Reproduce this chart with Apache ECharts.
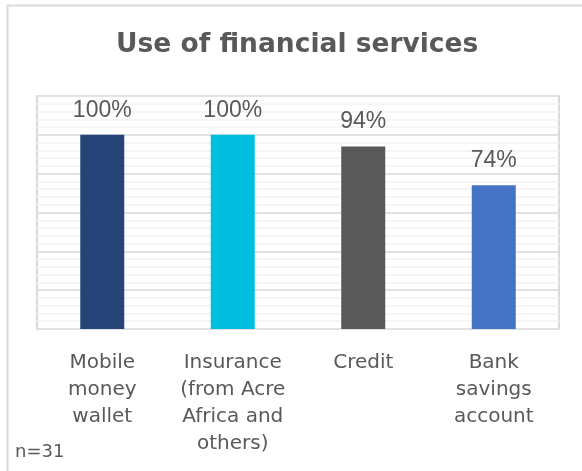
<!DOCTYPE html>
<html>
<head>
<meta charset="utf-8">
<script src="https://cdn.jsdelivr.net/npm/echarts@6/dist/echarts.min.js"></script>
<style>
  html, body { margin: 0; padding: 0; background: #ffffff; }
  #chart { width: 582px; height: 471px; }
</style>
</head>
<body>
<div id="chart"></div>
<script>
// Share of respondents using each financial service
const categories = [
  'Mobile\nmoney\nwallet',
  'Insurance\n(from Acre\nAfrica and\nothers)',
  'Credit',
  'Bank\nsavings\naccount'
];
const values = [100, 100, 94, 74];
const barColors = ['#264478', '#00BFDE', '#595959', '#4472C4'];
const titleText = 'Use of financial services';
const noteText = 'n=31';

const chart = echarts.init(document.getElementById('chart'), null, { renderer: 'canvas' });

chart.setOption({
  backgroundColor: '#ffffff',
  animation: false,
  title: {
    text: titleText,
    left: 111,
    top: 27,
    textStyle: {
      fontFamily: 'DejaVu Sans',
      fontWeight: 'bold',
      fontSize: 26.5,
      color: '#595959'
    }
  },
  graphic: [
    {
      type: 'rect',
      shape: { x: 7.5, y: 5.5, width: 620, height: 520 },
      style: { fill: 'none', stroke: '#d9d9d9', lineWidth: 2 },
      z: -1
    },
    {
      type: 'text',
      left: 15,
      top: 443,
      style: {
        text: noteText,
        font: '18px "DejaVu Sans"',
        fill: '#595959'
      }
    }
  ],
  grid: {
    left: 37,
    right: 23,
    top: 96,
    bottom: 142,
    show: true,
    borderColor: '#d9d9d9',
    borderWidth: 2,
    backgroundColor: 'transparent'
  },
  xAxis: {
    type: 'category',
    data: categories,
    axisLine: { show: false },
    axisTick: { show: false },
    axisLabel: {
      margin: 20,
      interval: 0,
      fontFamily: 'DejaVu Sans',
      fontSize: 20,
      lineHeight: 27,
      color: '#595959',
      align: 'center'
    }
  },
  yAxis: {
    type: 'value',
    min: 0,
    max: 120,
    interval: 20,
    axisLabel: { show: false },
    axisLine: { show: false },
    axisTick: { show: false },
    splitLine: { show: true, lineStyle: { color: '#e2e2e2', width: 2 } },
    minorTick: { show: false, splitNumber: 5 },
    minorSplitLine: { show: true, lineStyle: { color: '#f5f5f5', width: 2 } }
  },
  series: [{
    type: 'bar',
    barWidth: 44,
    data: values.map((v, i) => ({ value: v, itemStyle: { color: barColors[i] } })),
    label: {
      show: true,
      position: 'top',
      distance: 13,
      formatter: p => p.value + '%',
      fontFamily: '"Liberation Sans", Arial, sans-serif',
      fontSize: 23,
      color: '#595959'
    }
  }]
});
</script>
</body>
</html>
